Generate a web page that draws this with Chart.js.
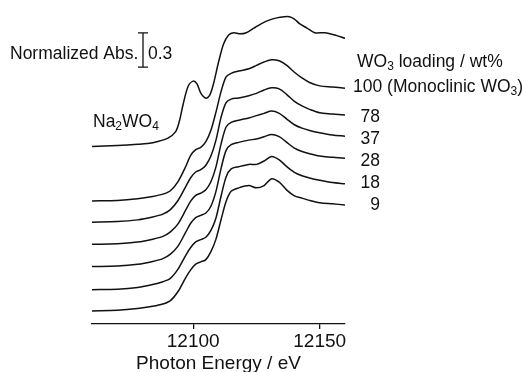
<!DOCTYPE html>
<html>
<head>
<meta charset="utf-8">
<script src="https://cdn.jsdelivr.net/npm/chart.js@4"></script>
<style>
  body { margin: 0; background: #fff; }
  #wrap { width: 523px; height: 372px; }
</style>
</head>
<body>
<div id="wrap"><canvas id="chart" width="523" height="372"></canvas></div>
<script>
// photon energies (eV) for the WO3 samples
const energyWO3 = [12060, 12070, 12078, 12084, 12088, 12091, 12094, 12097, 12099, 12101, 12103, 12105, 12107, 12109, 12111, 12113, 12115, 12118, 12122, 12125, 12128, 12131, 12134, 12137, 12140, 12143, 12146, 12150, 12155, 12160];

// normalized absorbance (before vertical offset)
const wo3_100 = [0, 0.005, 0.02, 0.04, 0.06, 0.09, 0.17, 0.30, 0.40, 0.45, 0.47, 0.52, 0.62, 0.78, 0.96, 1.09, 1.12, 1.14, 1.16, 1.19, 1.22, 1.24, 1.23, 1.19, 1.13, 1.08, 1.04, 1.01, 1.0, 0.99];
const wo3_78 = [0, 0.005, 0.02, 0.045, 0.07, 0.11, 0.19, 0.31, 0.39, 0.44, 0.46, 0.50, 0.58, 0.72, 0.92, 1.05, 1.08, 1.09, 1.11, 1.13, 1.16, 1.18, 1.17, 1.12, 1.06, 1.02, 0.99, 0.96, 0.95, 0.94];
const wo3_37 = [0, 0.005, 0.02, 0.045, 0.07, 0.11, 0.18, 0.30, 0.38, 0.43, 0.45, 0.48, 0.55, 0.68, 0.88, 1.03, 1.07, 1.09, 1.11, 1.13, 1.15, 1.17, 1.15, 1.10, 1.05, 1.02, 1.00, 0.98, 0.96, 0.95];
const wo3_28 = [0, 0.005, 0.02, 0.045, 0.07, 0.11, 0.18, 0.30, 0.38, 0.43, 0.45, 0.47, 0.53, 0.66, 0.86, 1.02, 1.07, 1.09, 1.11, 1.12, 1.14, 1.16, 1.14, 1.09, 1.04, 1.01, 0.99, 0.97, 0.96, 0.95];
const wo3_18 = [0, 0.005, 0.02, 0.045, 0.07, 0.10, 0.18, 0.30, 0.37, 0.42, 0.44, 0.46, 0.52, 0.63, 0.82, 0.99, 1.06, 1.08, 1.10, 1.10, 1.13, 1.17, 1.14, 1.08, 1.03, 1.00, 0.98, 0.96, 0.94, 0.93];
const wo3_9 = [0, 0.005, 0.02, 0.04, 0.06, 0.09, 0.17, 0.29, 0.36, 0.41, 0.43, 0.45, 0.52, 0.63, 0.80, 0.96, 1.05, 1.08, 1.10, 1.08, 1.10, 1.16, 1.13, 1.06, 1.01, 0.99, 0.97, 0.95, 0.94, 0.93];

// reference Na2WO4
const energyNa = [12060, 12070, 12078, 12082, 12086, 12090, 12093, 12094.5, 12096, 12098, 12100, 12101.5, 12103, 12105, 12106.5, 12108, 12110, 12112, 12114, 12116, 12118.5, 12121, 12124, 12127, 12130, 12133, 12136, 12138, 12140, 12142, 12145, 12148, 12152, 12156, 12160];
const na2wo4 = [0, 0.01, 0.02, 0.027, 0.045, 0.075, 0.13, 0.22, 0.37, 0.53, 0.575, 0.55, 0.47, 0.425, 0.45, 0.55, 0.74, 0.90, 0.98, 1.0, 0.99, 1.0, 1.04, 1.08, 1.11, 1.13, 1.14, 1.14, 1.12, 1.08, 1.04, 1.0, 1.0, 0.98, 0.95];

// vertical stacking offsets: Na2WO4, 100, 78, 37, 28, 18, 9
const offsets = [1.557, 1.08, 0.894, 0.699, 0.504, 0.301, 0.115];
const loadingLabels = ["100 (Monoclinic WO3)", "78", "37", "28", "18", "9"];
const xTicks = [12100, 12150];
const scaleBar = 0.3;

const wo3Series = [wo3_100, wo3_78, wo3_37, wo3_28, wo3_18, wo3_9];

function toPoints(xs, ys, off) {
    return xs.map((x, i) => ({ x: x, y: ys[i] + off }));
}

const lineStyle = {
    borderColor: "#111",
    borderWidth: 1.5,
    pointRadius: 0,
    fill: false,
    tension: 0.3
};

const datasets = [Object.assign({ label: "Na2WO4", data: toPoints(energyNa, na2wo4, offsets[0]) }, lineStyle)];
wo3Series.forEach((s, i) => {
    datasets.push(Object.assign({ label: loadingLabels[i], data: toPoints(energyWO3, s, offsets[i + 1]) }, lineStyle));
});

const FONT = '"Liberation Sans", Arial, sans-serif';

// draw text pieces, where a piece marked sub is drawn as subscript
function drawRich(ctx, parts, x, y, size, align) {
    const subSize = Math.round(size * 0.68);
    let total = 0;
    parts.forEach(p => {
        ctx.font = (p.sub ? subSize : size) + "px " + FONT;
        total += ctx.measureText(p.t).width;
    });
    let cx = align === "right" ? x - total : x;
    ctx.textAlign = "left";
    parts.forEach(p => {
        ctx.font = (p.sub ? subSize : size) + "px " + FONT;
        ctx.fillText(p.t, cx, p.sub ? y + 5 : y);
        cx += ctx.measureText(p.t).width;
    });
}

const annotations = {
    id: "annotations",
    afterDraw(chart) {
        const ctx = chart.ctx;
        const y = chart.scales.y;
        ctx.save();
        ctx.fillStyle = "#111";
        ctx.strokeStyle = "#111";
        ctx.textBaseline = "middle";

        drawRich(ctx, [{ t: "Normalized Abs." }], 10, 54, 17.5, "left");

        // 0.3 scale bar, length from the y scale
        const barLen = Math.abs(y.getPixelForValue(0) - y.getPixelForValue(scaleBar));
        const bx = 143, by = 50;
        ctx.lineWidth = 1.3;
        ctx.beginPath();
        ctx.moveTo(bx, by - barLen / 2); ctx.lineTo(bx, by + barLen / 2);
        ctx.moveTo(bx - 5, by - barLen / 2); ctx.lineTo(bx + 5, by - barLen / 2);
        ctx.moveTo(bx - 5, by + barLen / 2); ctx.lineTo(bx + 5, by + barLen / 2);
        ctx.stroke();
        drawRich(ctx, [{ t: String(scaleBar) }], 148, 54, 17.5, "left");

        drawRich(ctx, [{ t: "Na" }, { t: "2", sub: true }, { t: "WO" }, { t: "4", sub: true }], 93, 122, 17.5, "left");
        drawRich(ctx, [{ t: "WO" }, { t: "3", sub: true }, { t: " loading / wt%" }], 357, 62, 17.5, "left");
        drawRich(ctx, [{ t: "100 (Monoclinic WO" }, { t: "3", sub: true }, { t: ")" }], 353, 87, 17.5, "left");

        const ys = [117, 139, 161, 183, 205];
        loadingLabels.slice(1).forEach((l, i) => {
            drawRich(ctx, [{ t: l }], 380, ys[i], 17.5, "right");
        });
        ctx.restore();
    }
};

new Chart(document.getElementById("chart").getContext("2d"), {
    type: "line",
    data: { datasets: datasets },
    options: {
        responsive: false,
        animation: false,
        events: [],
        layout: { padding: { left: 92, right: 178, top: 5, bottom: -1 } },
        plugins: { legend: { display: false }, tooltip: { enabled: false } },
        scales: {
            x: {
                type: "linear",
                min: 12060,
                max: 12160,
                afterBuildTicks: axis => { axis.ticks = xTicks.map(v => ({ value: v })); },
                grid: { drawOnChartArea: false, drawTicks: true, tickLength: 5, color: "#111", lineWidth: 1.3 },
                border: { display: true, color: "#111", width: 1.3 },
                ticks: {
                    color: "#111",
                    padding: 3,
                    maxRotation: 0,
                    callback: v => String(v),
                    font: { family: FONT, size: 19, lineHeight: 1.0 }
                },
                title: {
                    display: true,
                    text: "Photon Energy / eV",
                    color: "#111",
                    padding: { top: 0, bottom: 0 },
                    font: { family: FONT, size: 19, lineHeight: 1.0 }
                }
            },
            y: { display: false, min: 0, max: 2.8 }
        }
    },
    plugins: [annotations]
});
</script>
</body>
</html>
